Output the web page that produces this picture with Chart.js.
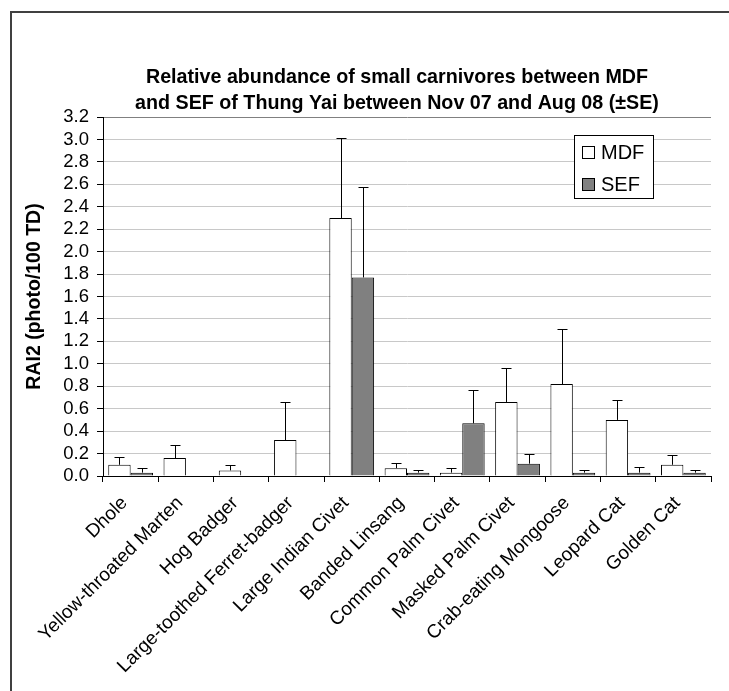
<!DOCTYPE html>
<html><head><meta charset="utf-8">
<script src="https://cdn.jsdelivr.net/npm/chart.js@4.4.1/dist/chart.umd.min.js"></script>
<style>html,body{margin:0;padding:0;background:#fff;}#wrap{width:729px;height:691px;position:relative;}</style>
</head><body><div id="wrap"><canvas id="c" width="729" height="691"></canvas></div>
<script>
const categories = ['Dhole','Yellow-throated Marten','Hog Badger','Large-toothed Ferret-badger','Large Indian Civet','Banded Linsang','Common Palm Civet','Masked Palm Civet','Crab-eating Mongoose','Leopard Cat','Golden Cat'];
const seriesNames = ['MDF','SEF'];
const mdfValues = [0.10, 0.16, 0.05, 0.32, 2.30, 0.07, 0.03, 0.66, 0.82, 0.50, 0.10];
const sefValues = [0.03, 0.00, 0.00, 0.00, 1.77, 0.03, 0.47, 0.11, 0.03, 0.03, 0.03];
const mdfSE = [0.07, 0.12, 0.05, 0.34, 0.71, 0.05, 0.04, 0.30, 0.49, 0.18, 0.09];
const sefSE = [0.04, 0.00, 0.00, 0.00, 0.81, 0.02, 0.30, 0.09, 0.025, 0.05, 0.025];
const yMin = 0, yMax = 3.2, yStep = 0.2;
const titleLines = ['Relative abundance of small carnivores between MDF','and SEF of Thung Yai between Nov 07 and Aug 08 (\u00B1SE)'];
const yTitle = 'RAI2 (photo/100 TD)';

const FONT = '"Liberation Sans", Arial, sans-serif';

const frame = {
  id: 'frame',
  afterLayout(chart) {
    const t = chart.titleBlock;
    if (t) { t.left -= 20; t.width += 20; }
  },
  beforeDraw(chart) {
    const ctx = chart.ctx;
    ctx.save();
    ctx.fillStyle = '#fff';
    ctx.fillRect(0, 0, chart.width, chart.height);
    ctx.fillStyle = '#404040';
    ctx.fillRect(10, 11, 2, chart.height - 11);
    ctx.fillRect(10, 11, chart.width - 10, 2);
    ctx.restore();
  }
};

const errorBars = {
  id: 'errorBars',
  afterDatasetsDraw(chart) {
    const ctx = chart.ctx;
    const ys = chart.scales.y;
    chart.data.datasets.forEach((ds, i) => {
      const meta = chart.getDatasetMeta(i);
      meta.data.forEach((bar, j) => {
        const se = ds.errors[j];
        if (!se) return;
        const v = ds.data[j];
        const yt = Math.round(ys.getPixelForValue(v + se)) + 0.5;
        const x = Math.round(bar.x) + 0.5;
        ctx.save();
        ctx.strokeStyle = '#000';
        ctx.lineWidth = 1;
        ctx.beginPath();
        ctx.moveTo(x, bar.y);
        ctx.lineTo(x, yt);
        ctx.moveTo(x - 5, yt);
        ctx.lineTo(x + 5, yt);
        ctx.stroke();
        ctx.restore();
      });
    });
  }
};

const boxLegend = {
  id: 'boxLegend',
  afterDraw(chart) {
    const a = chart.chartArea;
    const ctx = chart.ctx;
    const x0 = Math.round(a.right - 137), y0 = Math.round(a.top + 18), w = 79, h = 63;
    ctx.save();
    ctx.fillStyle = '#fff';
    ctx.fillRect(x0, y0, w, h);
    ctx.strokeStyle = '#000';
    ctx.lineWidth = 1;
    ctx.strokeRect(x0 + 0.5, y0 + 0.5, w, h);
    chart.data.datasets.forEach((ds, i) => {
      const cy = Math.round(y0 + 17 + i * 31.5);
      ctx.fillStyle = ds.backgroundColor;
      ctx.fillRect(x0 + 8, cy - 6, 12, 12);
      ctx.strokeStyle = '#000';
      ctx.strokeRect(x0 + 8.5, cy - 5.5, 12, 12);
      ctx.fillStyle = '#000';
      ctx.font = '20px ' + FONT;
      ctx.textBaseline = 'middle';
      ctx.textAlign = 'left';
      ctx.fillText(ds.label, x0 + 27, cy + 1);
    });
    ctx.restore();
  }
};

new Chart(document.getElementById('c'), {
  type: 'bar',
  data: {
    labels: categories,
    datasets: [
      { label: seriesNames[0], data: mdfValues, errors: mdfSE, backgroundColor: '#ffffff', borderColor: '#000', borderWidth: 1, categoryPercentage: 0.81, barPercentage: 1.0 },
      { label: seriesNames[1], data: sefValues, errors: sefSE, backgroundColor: '#808080', borderColor: '#000', borderWidth: 1, categoryPercentage: 0.81, barPercentage: 1.0 }
    ]
  },
  options: {
    responsive: false,
    animation: false,
    devicePixelRatio: 1,
    layout: { padding: { left: 11, right: 18, top: 0, bottom: 0 } },
    plugins: {
      legend: { display: false },
      tooltip: { enabled: false },
      title: {
        display: true, text: titleLines, fullSize: false, color: '#000',
        font: { family: FONT, size: 19.7, weight: 'bold', lineHeight: 26 / 19.7 },
        padding: { top: 65, bottom: 0 }
      }
    },
    scales: {
      x: {
        grid: { offset: true, drawOnChartArea: false, drawTicks: true, tickLength: 6, tickColor: '#000', color: '#000' },
        border: { color: '#000', width: 1 },
        ticks: { minRotation: 45, maxRotation: 45, autoSkip: false, labelOffset: -6, color: '#000', font: { family: FONT, size: 19 }, padding: 10 },
        afterFit(s) { s.height = 215; }
      },
      y: {
        min: yMin, max: yMax,
        ticks: { stepSize: yStep, autoSkip: false, callback: v => Number(v).toFixed(1), color: '#000', font: { family: FONT, size: 18.5 }, padding: 8 },
        grid: { color: c => (c.tick && Math.abs(c.tick.value - yMax) < 1e-6) ? '#808080' : '#c8c8c8', tickColor: '#000', tickLength: 6 },
        border: { color: '#000', width: 1 },
        title: { display: true, text: yTitle, color: '#000', font: { family: FONT, size: 19.5, weight: 'bold' }, padding: { top: 12, bottom: 0 } },
        afterFit(s) { s.width = 92; }
      }
    }
  },
  plugins: [frame, errorBars, boxLegend]
});
</script></body></html>
